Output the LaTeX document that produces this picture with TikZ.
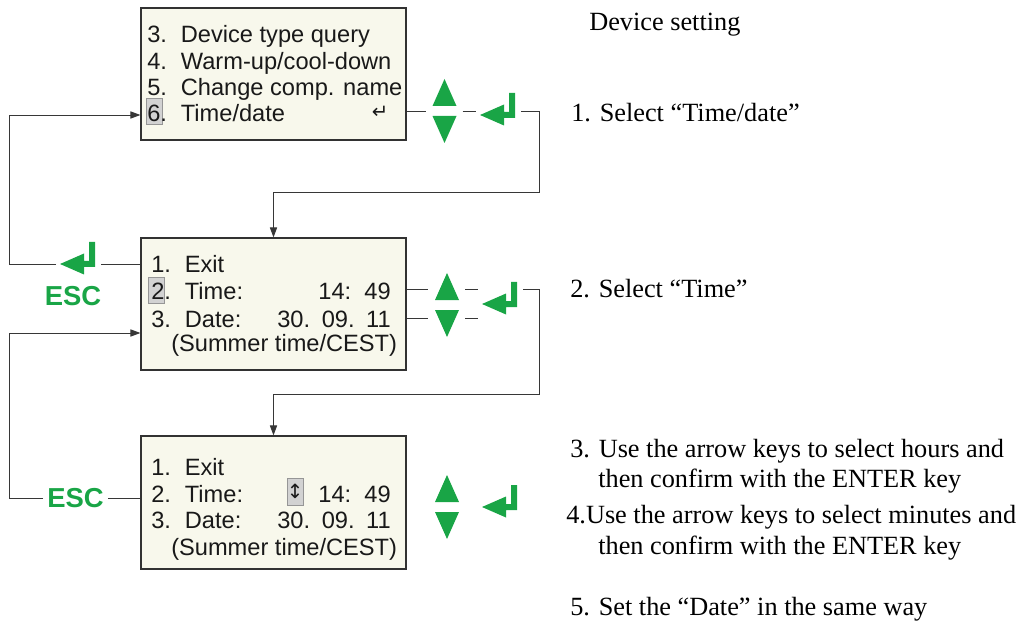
\documentclass[tikz,border=0pt]{standalone}
\usepackage{fontspec}
\setmainfont{Liberation Serif}
\newfontfamily\lcdfam{Liberation Sans}
\newfontfamily\symfam{DejaVu Sans}
\usetikzlibrary{arrows.meta}
\definecolor{keygreen}{RGB}{25, 165, 70}
\definecolor{lcdcream}{RGB}{248, 248, 236}
\definecolor{framegray}{RGB}{50, 50, 50}
\definecolor{wiregray}{RGB}{55, 55, 55}
\definecolor{lcdtext}{RGB}{25, 25, 25}
\definecolor{cursorgray}{RGB}{210, 210, 210}
\definecolor{cursorborder}{RGB}{150, 150, 150}
\newcommand{\lcdfont}{\lcdfam\fontsize{16.8}{20}\selectfont}
\newcommand{\notefont}{\fontsize{18.7}{22}\selectfont}
\newcommand{\escfont}{\lcdfam\bfseries\fontsize{19.5}{22}\selectfont}
\newcommand{\menuno}[1]{\makebox[0.84cm][l]{#1}}
\tikzset{
  screen/.style={draw=framegray, fill=lcdcream, line width=0.8pt, minimum width=6.625cm, minimum height=3.3cm, inner sep=0pt},
  lcd/.style={anchor=base west, inner sep=0pt, text=lcdtext, font=\lcdfont},
  lcdr/.style={lcd, anchor=base east},
  cursor/.style={fill=cursorgray, draw=cursorborder, line width=0.5pt},
  wire/.style={draw=wiregray, line width=0.7pt},
  feed/.style={wire, -{Triangle[length=0.25cm,width=0.18cm]}},
  note/.style={anchor=base west, inner sep=0pt, font=\notefont},
  esc/.style={text=keygreen, font=\escfont, inner xsep=0.1cm, inner ysep=0pt},
  updown/.pic={
    \fill[keygreen] (-12,-5) -- (12,-5) -- (0,-32) -- cycle;
    \fill[keygreen] (-12,5) -- (12,5) -- (0,32) -- cycle;
    \coordinate (-w) at (-19,0);
    \coordinate (-e) at (18,0);
  },
  enterkey/.pic={
    \fill[keygreen] (0,0) -- (24,-10.5) -- (24,-3) -- (29,-3) -- (29,-22) -- (35,-22)
      -- (35,3) -- (24,3) -- (24,10.5) -- cycle;
    \coordinate (-in) at (-4,0);
    \coordinate (-out) at (41,0);
  }
}

\begin{document}
\begin{tikzpicture}[x=0.025cm, y=-0.025cm]
\useasboundingbox (0,0) rectangle (1029,622);

% screens
\node[screen] (menu) at (273.5,74) {};
\node[screen] (timeA) at (273.5,304) {};
\node[screen, minimum height=3.325cm] (timeB) at (273.5,502.5) {};

% menu screen
\fill[cursor] (146,98) rectangle (162,124);
\node[lcd] (m3) at (147,43) {\menuno{3.}Device type query};
\node[lcd] (m4) at (147,69.5) {\menuno{4.}Warm-up/cool-down};
\node[lcd] (m5) at (147,95.5) {\menuno{5.}Change comp. name};
\node[lcd] (m6) at (147,121.5) {\menuno{6.}Time/date};
\node[inner sep=0pt, text=lcdtext] (m6r) at (380,112) {\symfam\fontsize{14}{14}\selectfont ↵};

% time screen, selecting
\fill[cursor] (148,277) rectangle (164,303);
\node[lcd] (a1) at (151,273) {\menuno{1.}Exit};
\node[lcd] (a2) at (151,300) {\menuno{2.}Time:};
\node[lcdr] (a2v) at (391,300) {14:\hspace{0.33cm}49};
\node[lcd] (a3) at (151,327) {\menuno{3.}Date:};
\node[lcdr] (a3v) at (391,327) {30.\hspace{0.29cm}09.\hspace{0.29cm}11};
\node[lcd] (a4) at (171,351) {(Summer time/CEST)};

% time screen, editing
\fill[cursor] (287,478) rectangle (303,505);
\node[inner sep=0pt, text=lcdtext] (bcur) at (295,491.5) {\symfam\fontsize{14}{14}\selectfont ↕};
\node[lcd] (b1) at (151,475) {\menuno{1.}Exit};
\node[lcd] (b2) at (151,502) {\menuno{2.}Time:};
\node[lcdr] (b2v) at (391,502) {14:\hspace{0.33cm}49};
\node[lcd] (b3) at (151,528) {\menuno{3.}Date:};
\node[lcdr] (b3v) at (391,528) {30.\hspace{0.29cm}09.\hspace{0.29cm}11};
\node[lcd] (b4) at (171,555) {(Summer time/CEST)};

% keys
\pic (udA) at (444.5,111) {updown};
\pic (eA) at (480,115) {enterkey};
\pic (udB) at (447,305) {updown};
\pic (eB) at (482,304) {enterkey};
\pic (udC) at (447,507) {updown};
\pic (eC) at (482,507) {enterkey};
\pic (eEsc) at (60,264) {enterkey};
\node[esc] (escA) at (73,296) {ESC};
\node[esc] (escB) at (75.5,498) {ESC};

% connectors
\coordinate (rowT) at (0,289);
\coordinate (rowD) at (0,318);
\coordinate (bendA) at (539,192);
\coordinate (bendB) at (539,394);
\coordinate (leftA) at (9,115);
\coordinate (leftB) at (9,333);
\draw[wire] (menu.east |- udA-w) -- (udA-w);
\draw[wire] (udA-e) -- (udA-e -| eA-in);
\draw[feed] (eA-out |- udA-e) -| (bendA) -| (timeA.north);
\draw[wire] (timeA.east |- rowT) -- (rowT -| udB-w);
\draw[wire] (rowT -| udB-e) -- (rowT -| eB-in);
\draw[wire] (timeA.east |- rowD) -- (rowD -| udB-w);
\draw[wire] (rowD -| udB-e) -- (rowD -| eB-in);
\draw[feed] (rowT -| eB-out) -| (bendB) -| (timeB.north);
\draw[wire] (timeA.west |- eEsc-out) -- (eEsc-out);
\draw[feed] (eEsc-in) -| (leftA) -- (menu.west |- leftA);
\draw[wire] (timeB.west |- escB) -- (escB.east);
\draw[feed] (escB.west) -| (leftB) -- (timeA.west |- leftB);

% notes
\node[note] (n0) at (589,31) {Device setting};
\node[note] (n1) at (571,121.5) {1. Select “Time/date”};
\node[note] (n2) at (570,297.5) {2. Select “Time”};
\node[note] (n3) at (570,457.5) {3. Use the arrow keys to select hours and};
\node[note] (n3b) at (598,487.5) {then confirm with the ENTER key};
\node[note] (n4) at (566,523.5) {4.Use the arrow keys to select minutes and};
\node[note] (n4b) at (598,554.5) {then confirm with the ENTER key};
\node[note] (n5) at (570,615.5) {5. Set the “Date” in the same way};
\end{tikzpicture}
\end{document}
